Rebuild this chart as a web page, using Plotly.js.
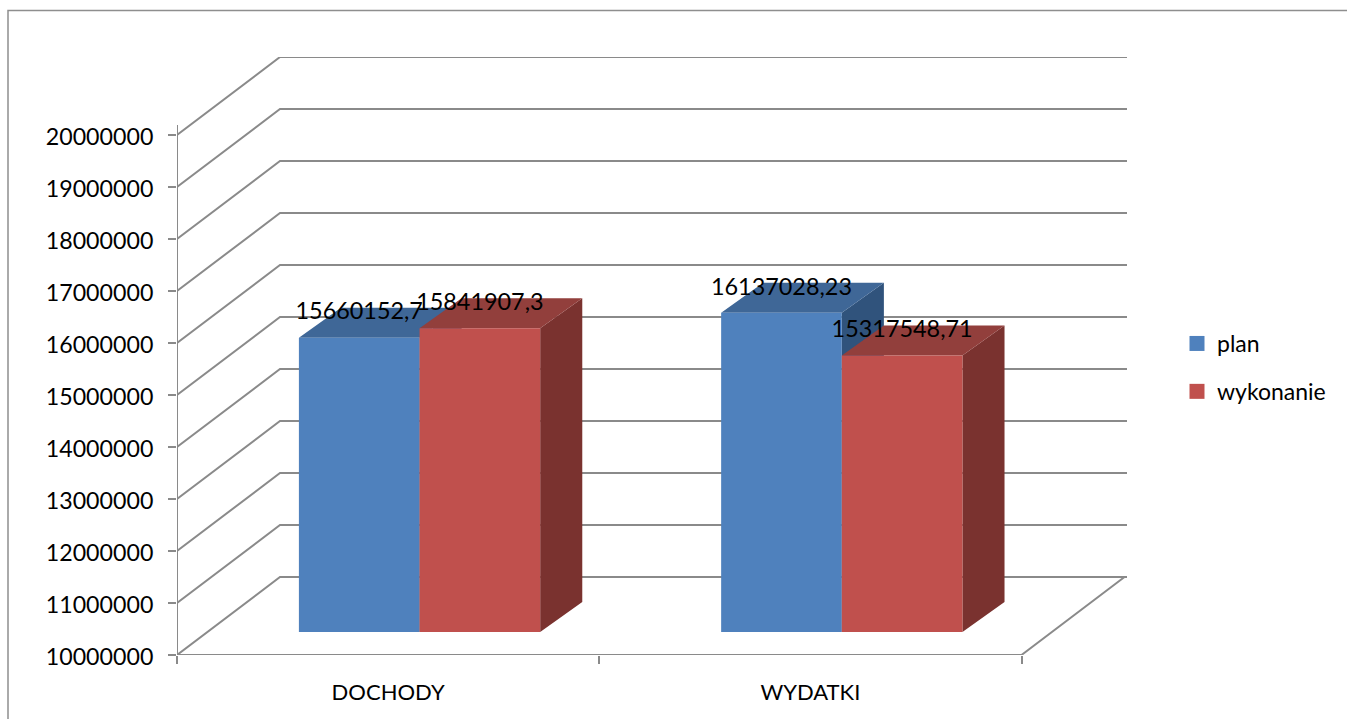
<!DOCTYPE html>
<html>
<head>
<meta charset="utf-8">
<script src="https://cdn.plot.ly/plotly-3.0.1.min.js"></script>
<style>html,body{margin:0;padding:0;background:#fff;overflow:hidden}#chart{width:1347px;height:719px}</style>
</head>
<body>
<div id="chart"></div>
<script>
// Data
const categories = ['DOCHODY', 'WYDATKI'];
const planValues = [15660152.7, 16137028.23];
const wykonanieValues = [15841907.3, 15317548.71];
const planLabels = ['15660152,7', '16137028,23'];
const wykonanieLabels = ['15841907,3', '15317548,71'];
const valueTicks = [10000000, 11000000, 12000000, 13000000, 14000000, 15000000, 16000000, 17000000, 18000000, 19000000, 20000000];

// Oblique 3D projection, in axis units
const yMin = 10000000, yMax = 21500000;
const xMax = 950 / 422.25;
const depthX = 103 / 422.25, depthY = 1500000;
const barFront = { x: 0.305, y: 0.295 }, barBack = { x: 0.7136, y: 0.68 };
const wall = { x: 1, y: 1 };
const barWidth = 1 / 3.5, gap = 0.75 / 3.5;
const FONT = 'Lato, Carlito, sans-serif';
const GREY = '#8a8a8a';

const proj = (x, v, d) => [x + depthX * d.x, v + depthY * d.y];

function polys(list) {
  const xs = [], ys = [];
  list.forEach(p => {
    p.concat([p[0]]).forEach(q => { xs.push(q[0]); ys.push(q[1]); });
    xs.push(null); ys.push(null);
  });
  return { x: xs, y: ys };
}

function faceTrace(list, color) {
  const p = polys(list);
  return { x: p.x, y: p.y, mode: 'lines', fill: 'toself', fillcolor: color,
           line: { width: 0, color: color }, hoverinfo: 'skip', showlegend: false, cliponaxis: false };
}

function seriesFaces(values, seriesIndex, cFront, cTop, cSide) {
  const front = [], top = [], side = [];
  values.forEach((v, i) => {
    const x0 = i + gap + seriesIndex * barWidth, x1 = x0 + barWidth;
    const a = barFront, b = barBack;
    front.push([proj(x0, yMin, a), proj(x1, yMin, a), proj(x1, v, a), proj(x0, v, a)]);
    top.push([proj(x0, v, a), proj(x1, v, a), proj(x1, v, b), proj(x0, v, b)]);
    side.push([proj(x1, yMin, a), proj(x1, yMin, b), proj(x1, v, b), proj(x1, v, a)]);
  });
  return [faceTrace(side, cSide), faceTrace(top, cTop), faceTrace(front, cFront)];
}

// Walls: gridlines running from the front edge to the back wall
const gx = [], gy = [];
valueTicks.forEach(v => {
  const b = proj(0, v, wall);
  gx.push(0, b[0], xMax, null);
  gy.push(v, b[1], b[1], null);
});
const floorEnd = proj(2, yMin, wall);
gx.push(0, 2, floorEnd[0], null);
gy.push(yMin, yMin, floorEnd[1], null);
const tickOver = 192000;
gx.push(0, 0, null);
gy.push(yMin - tickOver, valueTicks[valueTicks.length - 1] + tickOver, null);

const gridTrace = { x: gx, y: gy, mode: 'lines', line: { color: GREY, width: 2 },
                    hoverinfo: 'skip', showlegend: false, cliponaxis: false };

function labelTrace(values, labels, seriesIndex) {
  return {
    x: values.map((v, i) => proj(i + gap + (seriesIndex + 0.5) * barWidth, v, barFront)[0]),
    y: values.map(v => proj(0, v, barFront)[1] + 465000),
    text: labels, mode: 'text', textposition: 'middle center',
    textfont: { family: FONT, size: 23.4, color: '#000' },
    hoverinfo: 'skip', showlegend: false, cliponaxis: false
  };
}

function legendKey(name, color, group) {
  return { x: [null], y: [null], mode: 'markers', name: name, legendgroup: group,
           marker: { symbol: 'square', size: 15, color: color }, hoverinfo: 'skip' };
}

const traces = [gridTrace]
  .concat(seriesFaces(planValues, 0, '#4F81BD', '#3F6797', '#30537C'))
  .concat(seriesFaces(wykonanieValues, 1, '#C0504D', '#923F3C', '#7A322F'))
  .concat([labelTrace(planValues, planLabels, 0), labelTrace(wykonanieValues, wykonanieLabels, 1),
           legendKey('plan', '#4F81BD', 'a'), legendKey('wykonanie', '#C0504D', 'b')]);

const fx = px => (px - 177) / 950, fy = py => 1 - (py - 57) / 598;

const layout = {
  width: 1347, height: 719,
  margin: { l: 177, r: 220, t: 57, b: 64, pad: 0 },
  paper_bgcolor: '#fff', plot_bgcolor: 'rgba(0,0,0,0)',
  xaxis: {
    range: [0, xMax], showgrid: false, zeroline: false, showline: false,
    tickmode: 'array', tickvals: [0.5, 1.5], ticktext: categories, ticks: '',
    tickfont: { family: FONT, size: 22, color: '#000' }, ticklabelstandoff: 22,
    minor: { tickmode: 'array', tickvals: [0, 1, 2], ticks: 'outside', ticklen: 8, tickwidth: 2, tickcolor: GREY, showgrid: false }
  },
  yaxis: {
    range: [yMin, yMax], showgrid: false, zeroline: false, showline: false,
    tickmode: 'array', tickvals: valueTicks, ticktext: valueTicks.map(String),
    ticks: 'outside', ticklen: 8, tickwidth: 2, tickcolor: GREY,
    tickfont: { family: FONT, size: 23.2, color: '#000' }, ticklabelstandoff: 10, ticklabelshift: 2
  },
  legend: {
    x: 1.0 + 50 / 950, xanchor: 'left', y: 0.5 - 11.5 / 598, yanchor: 'middle', bgcolor: 'rgba(0,0,0,0)',
    font: { family: FONT, size: 23, color: '#000' }, tracegroupgap: 15, itemclick: false
  },
  shapes: [{
    type: 'path', xref: 'paper', yref: 'paper',
    path: `M ${fx(8)} ${fy(719)} L ${fx(8)} ${fy(10.5)} L ${fx(1347)} ${fy(10.5)}`,
    line: { color: '#8e8e8e', width: 1.5 }
  }],
  showlegend: true, hovermode: false
};

Plotly.newPlot('chart', traces, layout, { displayModeBar: false, staticPlot: true });
</script>
</body>
</html>
